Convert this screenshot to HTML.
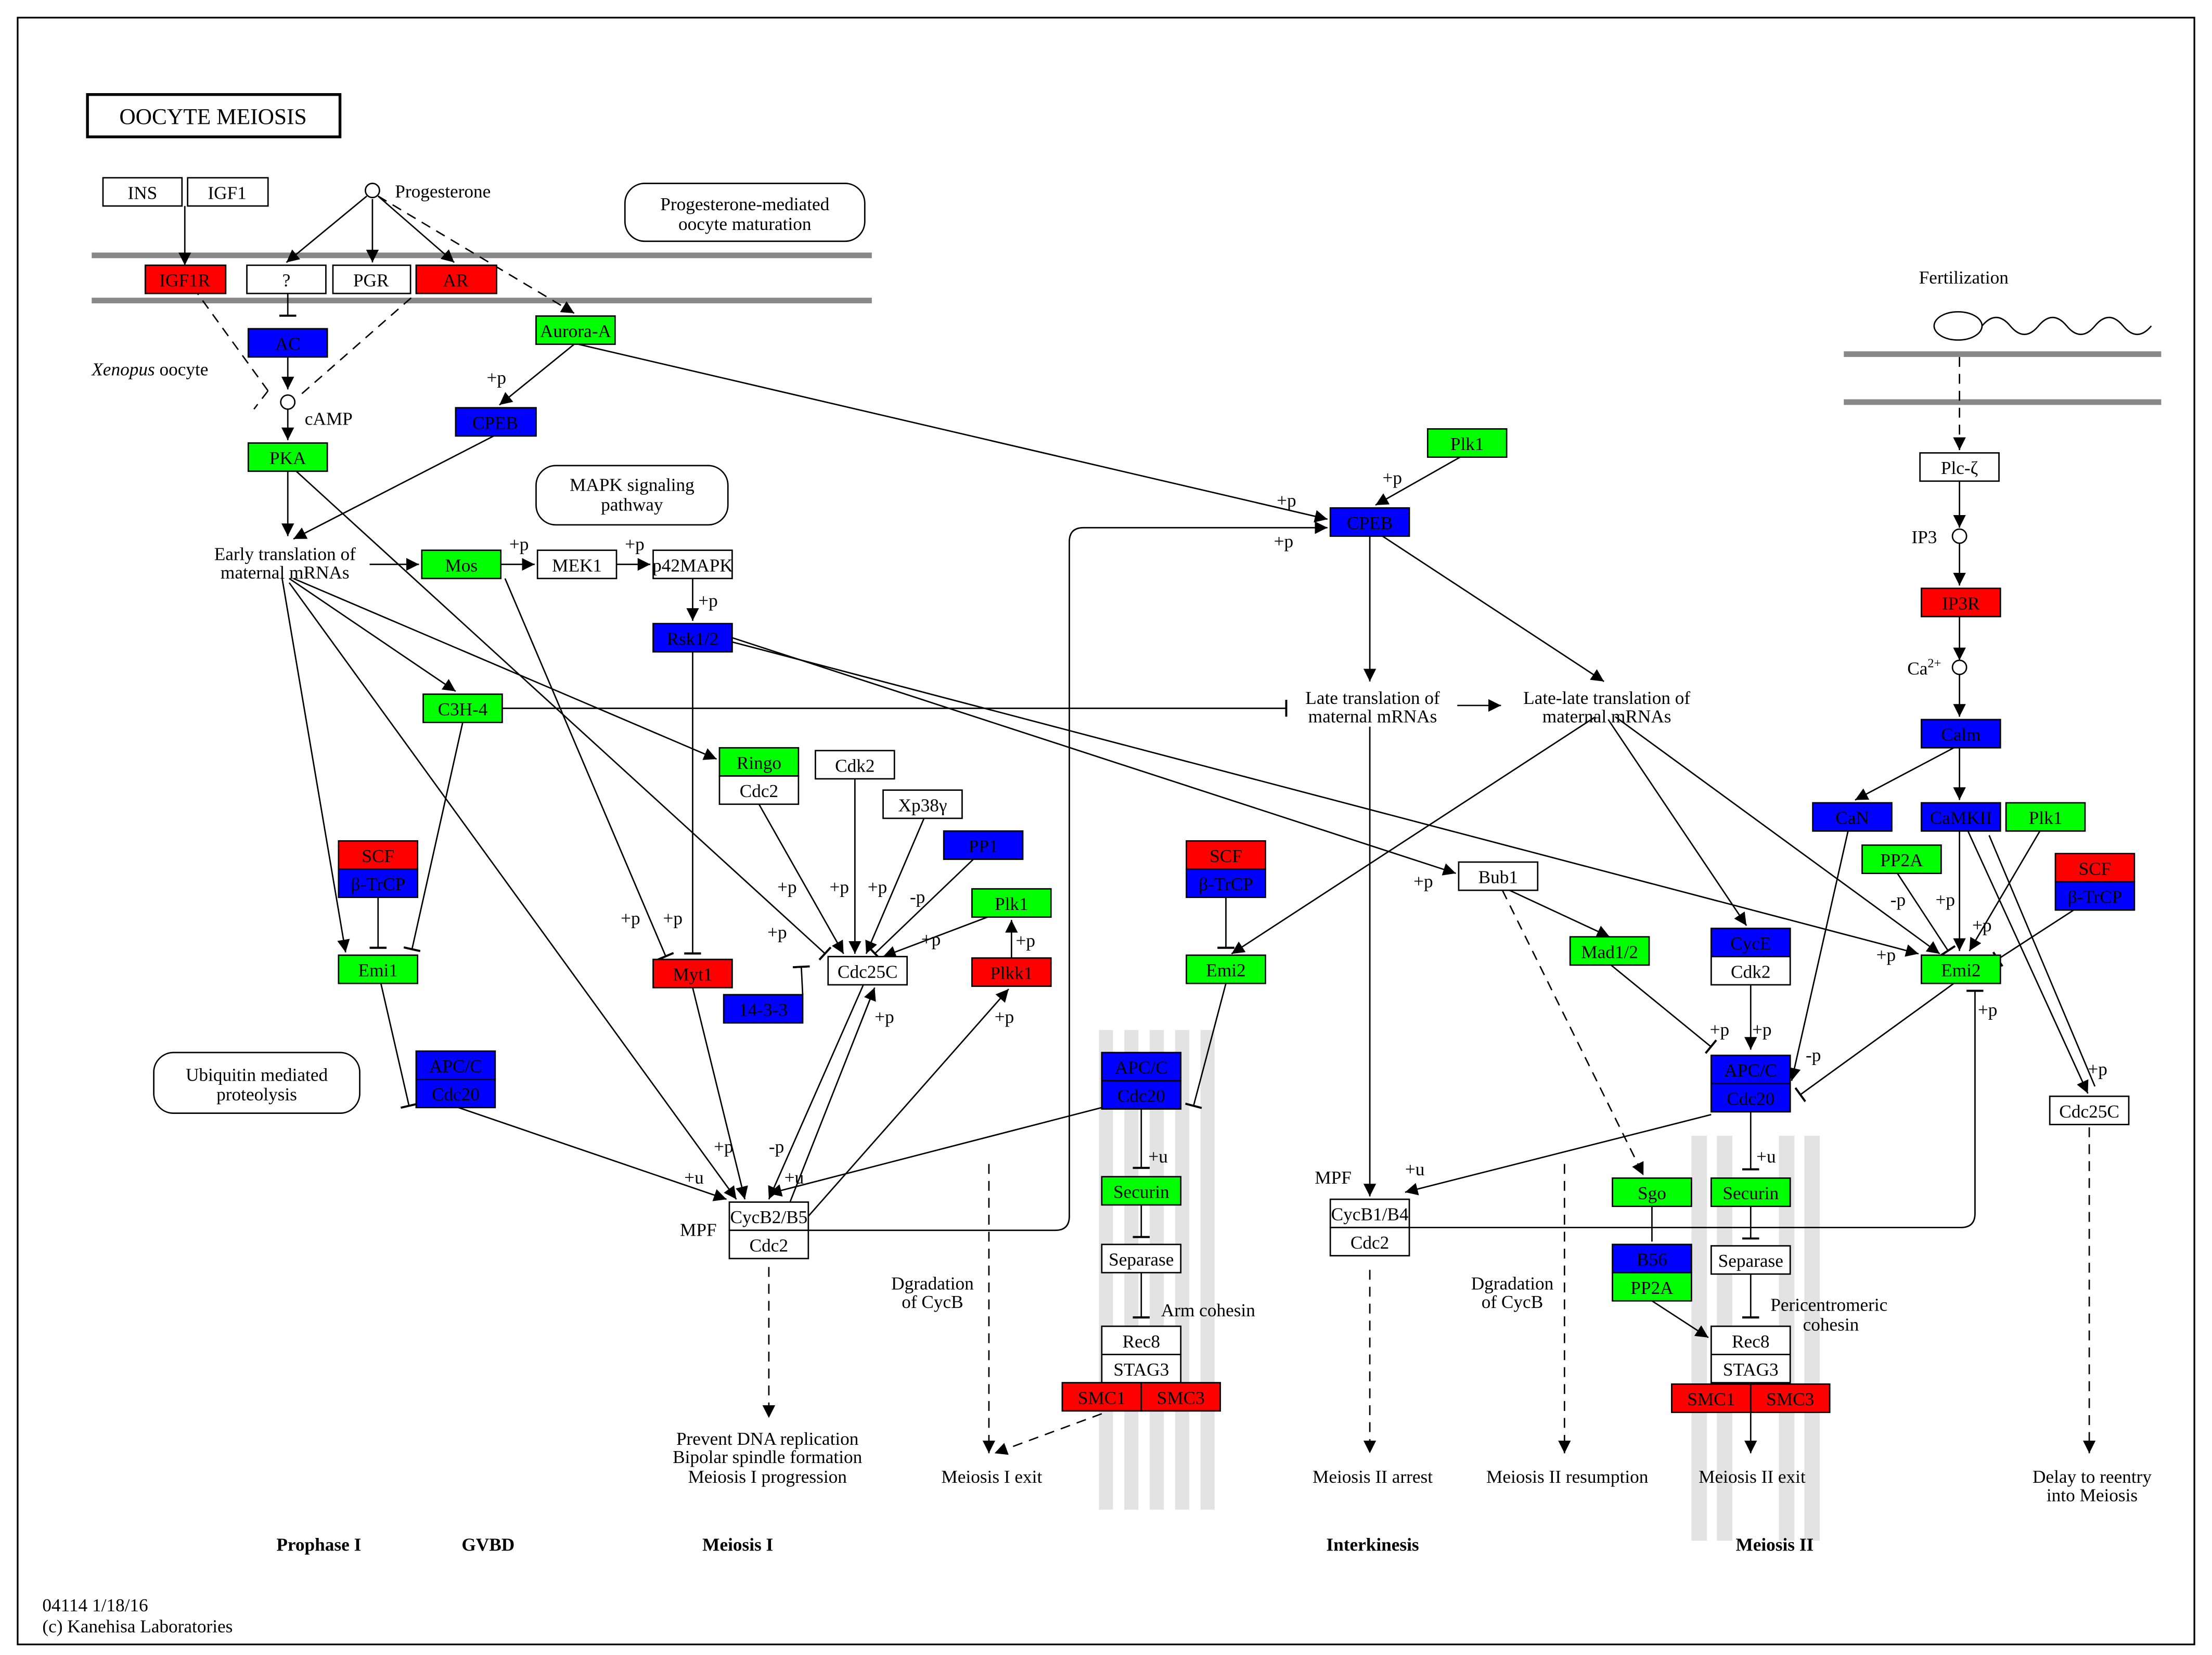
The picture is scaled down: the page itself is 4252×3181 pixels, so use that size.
<!DOCTYPE html>
<html><head><meta charset="utf-8"><style>
html,body{margin:0;padding:0;background:#fff}
svg{display:block}
text{font-family:"Liberation Serif",serif;font-size:13px;fill:#000}
.n{stroke:#000;stroke-width:1}
.e{stroke:#000;stroke-width:1;fill:none}
.d{stroke:#000;stroke-width:1;fill:none;stroke-dasharray:7,5}
</style></head><body>
<svg width="4252" height="3181" viewBox="0 0 1568 1173" preserveAspectRatio="none" xmlns="http://www.w3.org/2000/svg">
<defs>
<marker id="a" viewBox="0 0 10 10" refX="10" refY="5" markerWidth="9" markerHeight="9" orient="auto" markerUnits="userSpaceOnUse"><path d="M0,0L10,5L0,10z" fill="#000"/></marker>
<marker id="b" viewBox="0 0 2 12" refX="1" refY="6" markerWidth="2" markerHeight="12" orient="auto" markerUnits="userSpaceOnUse"><rect x="0" y="0" width="1.5" height="12" fill="#000"/></marker>
</defs>
<rect x="0" y="0" width="1568" height="1173" fill="#fff"/>
<rect x="12.5" y="12.5" width="1543" height="1153" fill="none" stroke="#000" stroke-width="1.2"/>
<g fill="#e3e3e3">
<rect x="779" y="730" width="10" height="340"/><rect x="797" y="730" width="10" height="340"/>
<rect x="815" y="730" width="10" height="340"/><rect x="833" y="730" width="10" height="340"/>
<rect x="851" y="730" width="10" height="340"/>
<rect x="1199" y="805" width="11" height="287"/><rect x="1217" y="805" width="11" height="287"/>
<rect x="1261" y="805" width="11" height="287"/><rect x="1279" y="805" width="11" height="287"/>
</g>
<rect x="62" y="67" width="179" height="30" fill="#fff" stroke="#000" stroke-width="2"/>
<text x="151" y="88" text-anchor="middle" style="font-size:16px">OOCYTE  MEIOSIS</text>
<g fill="#888"><rect x="65" y="179" width="553" height="4"/><rect x="65" y="211" width="553" height="4"/>
<rect x="1307" y="249" width="225" height="4"/><rect x="1307" y="283" width="225" height="4"/></g>
<g fill="#fff" stroke="#000"><rect x="443" y="130" width="170" height="41" rx="14"/><rect x="380" y="330" width="136" height="42" rx="14"/><rect x="109" y="746" width="146" height="43" rx="14"/></g>
<g text-anchor="middle">
<text x="528" y="149">Progesterone-mediated</text><text x="528" y="163">oocyte maturation</text>
<text x="448" y="348">MAPK signaling</text><text x="448" y="362">pathway</text>
<text x="182" y="766">Ubiquitin mediated</text><text x="182" y="780">proteolysis</text>
</g>
<g class="e">
<line x1="131" y1="146" x2="131" y2="188" marker-end="url(#a)"/>
<line x1="260" y1="139" x2="203" y2="186" marker-end="url(#a)"/>
<line x1="264" y1="141" x2="264" y2="186" marker-end="url(#a)"/>
<line x1="268" y1="139" x2="322" y2="186" marker-end="url(#a)"/>
<line x1="204" y1="208" x2="204" y2="224" marker-end="url(#b)"/>
<line x1="204" y1="253" x2="204" y2="276" marker-end="url(#a)"/>
<line x1="204" y1="290" x2="204" y2="312" marker-end="url(#a)"/>
<line x1="407" y1="244" x2="354" y2="287" marker-end="url(#a)"/>
<line x1="204" y1="334" x2="204" y2="380" marker-end="url(#a)"/>
<line x1="350" y1="309" x2="208" y2="382" marker-end="url(#a)"/>
<line x1="262" y1="400" x2="297" y2="400" marker-end="url(#a)"/>
<line x1="355" y1="400" x2="379" y2="400" marker-end="url(#a)"/>
<line x1="437" y1="400" x2="461" y2="400" marker-end="url(#a)"/>
<line x1="491" y1="410" x2="491" y2="440" marker-end="url(#a)"/>
<line x1="410" y1="244" x2="941" y2="368" marker-end="url(#a)"/>
<line x1="1035" y1="324" x2="975" y2="358" marker-end="url(#a)"/>
<path d="M573,872 L748,872 Q758,872 758,862 L758,384 Q758,374 768,374 L941,374" marker-end="url(#a)"/>
<line x1="971" y1="380" x2="971" y2="483" marker-end="url(#a)"/>
<line x1="980" y1="380" x2="1137" y2="483" marker-end="url(#a)"/>
<line x1="1033" y1="500" x2="1064" y2="500" marker-end="url(#a)"/>
<line x1="971" y1="515" x2="971" y2="848" marker-end="url(#a)"/>
<line x1="356" y1="502" x2="912" y2="502" marker-end="url(#b)"/>
<line x1="200" y1="410" x2="245" y2="675" marker-end="url(#a)"/>
<line x1="205" y1="410" x2="323" y2="490" marker-end="url(#a)"/>
<line x1="208" y1="410" x2="508" y2="538" marker-end="url(#a)"/>
<line x1="205" y1="413" x2="522" y2="850" marker-end="url(#a)"/>
<line x1="210" y1="334" x2="585" y2="676" marker-end="url(#b)"/>
<line x1="358" y1="410" x2="472" y2="678" marker-end="url(#b)"/>
<line x1="328" y1="512" x2="292" y2="673" marker-end="url(#b)"/>
<line x1="268" y1="636" x2="268" y2="672" marker-end="url(#b)"/>
<line x1="491" y1="462" x2="491" y2="676" marker-end="url(#b)"/>
<line x1="519" y1="452" x2="1032" y2="619" marker-end="url(#a)"/>
<line x1="519" y1="455" x2="1360" y2="676" marker-end="url(#a)"/>
<line x1="538" y1="570" x2="598" y2="676" marker-end="url(#a)"/>
<line x1="606" y1="552" x2="606" y2="676" marker-end="url(#a)"/>
<line x1="655" y1="580" x2="614" y2="676" marker-end="url(#a)"/>
<line x1="690" y1="609" x2="620" y2="676" marker-end="url(#b)"/>
<line x1="700" y1="650" x2="626" y2="678" marker-end="url(#a)"/>
<line x1="569" y1="705" x2="568" y2="685" marker-end="url(#b)"/>
<line x1="717" y1="679" x2="717" y2="652" marker-end="url(#a)"/>
<line x1="491" y1="700" x2="528" y2="850" marker-end="url(#a)"/>
<line x1="612" y1="698" x2="545" y2="850" marker-end="url(#a)"/>
<line x1="560" y1="852" x2="620" y2="700" marker-end="url(#a)"/>
<line x1="573" y1="862" x2="715" y2="701" marker-end="url(#a)"/>
<line x1="270" y1="697" x2="290" y2="784" marker-end="url(#b)"/>
<line x1="325" y1="785" x2="515" y2="850" marker-end="url(#a)"/>
<line x1="781" y1="785" x2="545" y2="846" marker-end="url(#a)"/>
<line x1="869" y1="697" x2="846" y2="784" marker-end="url(#b)"/>
<line x1="869" y1="636" x2="869" y2="672" marker-end="url(#b)"/>
<line x1="1131" y1="508" x2="873" y2="676" marker-end="url(#a)"/>
<line x1="809" y1="786" x2="809" y2="828" marker-end="url(#b)"/>
<line x1="809" y1="854" x2="809" y2="877" marker-end="url(#b)"/>
<line x1="809" y1="902" x2="809" y2="934" marker-end="url(#b)"/>
<line x1="1070" y1="631" x2="1141" y2="664" marker-end="url(#a)"/>
<line x1="1142" y1="684" x2="1213" y2="742" marker-end="url(#b)"/>
<line x1="1241" y1="698" x2="1241" y2="744" marker-end="url(#a)"/>
<line x1="1140" y1="510" x2="1238" y2="656" marker-end="url(#a)"/>
<line x1="1145" y1="508" x2="1375" y2="676" marker-end="url(#a)"/>
<line x1="1213" y1="790" x2="996" y2="845" marker-end="url(#a)"/>
<line x1="1241" y1="788" x2="1241" y2="829" marker-end="url(#b)"/>
<line x1="1241" y1="855" x2="1241" y2="878" marker-end="url(#b)"/>
<line x1="1241" y1="903" x2="1241" y2="934" marker-end="url(#b)"/>
<line x1="1171" y1="855" x2="1171" y2="880"/>
<line x1="1171" y1="922" x2="1211" y2="948" marker-end="url(#a)"/>
<path d="M999,870 L1390,870 Q1400,870 1400,860 L1400,702" marker-end="url(#b)"/>
<line x1="1385" y1="697" x2="1276" y2="776" marker-end="url(#b)"/>
<line x1="1310" y1="589" x2="1270" y2="766" marker-end="url(#a)"/>
<line x1="1389" y1="341" x2="1389" y2="374" marker-end="url(#a)"/>
<line x1="1389" y1="385" x2="1389" y2="415" marker-end="url(#a)"/>
<line x1="1389" y1="437" x2="1389" y2="468" marker-end="url(#a)"/>
<line x1="1389" y1="478" x2="1389" y2="508" marker-end="url(#a)"/>
<line x1="1385" y1="530" x2="1315" y2="567" marker-end="url(#a)"/>
<line x1="1389" y1="530" x2="1389" y2="567" marker-end="url(#a)"/>
<line x1="1389" y1="589" x2="1389" y2="674" marker-end="url(#a)"/>
<line x1="1345" y1="619" x2="1381" y2="674" marker-end="url(#b)"/>
<line x1="1446" y1="589" x2="1396" y2="674" marker-end="url(#a)"/>
<line x1="1470" y1="645" x2="1416" y2="680" marker-end="url(#b)"/>
<line x1="1395" y1="589" x2="1480" y2="775" marker-end="url(#a)"/>
<line x1="1410" y1="592" x2="1485" y2="770"/>
</g>
<g class="d">
<line x1="190" y1="277" x2="140" y2="208"/>
<line x1="190" y1="277" x2="180" y2="290"/>
<line x1="214" y1="279" x2="295" y2="208"/>
<line x1="268" y1="139" x2="407" y2="222" marker-end="url(#a)"/>
<line x1="545" y1="898" x2="545" y2="1005" marker-end="url(#a)"/>
<line x1="701" y1="825" x2="701" y2="1030" marker-end="url(#a)"/>
<line x1="781" y1="1002" x2="705" y2="1030" marker-end="url(#a)"/>
<line x1="971" y1="900" x2="971" y2="1030" marker-end="url(#a)"/>
<line x1="1109" y1="825" x2="1109" y2="1030" marker-end="url(#a)"/>
<line x1="1065" y1="631" x2="1165" y2="833" marker-end="url(#a)"/>
<line x1="1389" y1="253" x2="1389" y2="319" marker-end="url(#a)"/>
<line x1="1481" y1="799" x2="1481" y2="1030" marker-end="url(#a)"/>
</g>
<line x1="1241" y1="1001" x2="1241" y2="1030" class="e" marker-end="url(#a)"/>
<g fill="#fff" stroke="#000"><circle cx="264" cy="135" r="5"/><circle cx="204" cy="285" r="5"/><circle cx="1389" cy="380" r="5"/><circle cx="1389" cy="473" r="5"/>
<ellipse cx="1388" cy="231" rx="17" ry="10"/></g>
<path d="M1405,231 q10,-12 20,0 t20,0 t20,0 t20,0 t20,0 t20,0" class="e"/>
<g class="n">
<rect x="73" y="126" width="56" height="20" fill="#fff"/><rect x="133" y="126" width="57" height="20" fill="#fff"/>
<rect x="103" y="188" width="57" height="20" fill="#f00"/><rect x="175" y="188" width="56" height="20" fill="#fff"/>
<rect x="236" y="188" width="55" height="20" fill="#fff"/><rect x="295" y="188" width="57" height="20" fill="#f00"/>
<rect x="176" y="233" width="56" height="20" fill="#00f"/><rect x="380" y="224" width="56" height="20" fill="#0f0"/>
<rect x="323" y="289" width="57" height="20" fill="#00f"/><rect x="176" y="314" width="56" height="20" fill="#0f0"/>
<rect x="299" y="390" width="56" height="20" fill="#0f0"/><rect x="381" y="390" width="56" height="20" fill="#fff"/>
<rect x="463" y="390" width="56" height="20" fill="#fff"/><rect x="463" y="442" width="56" height="20" fill="#00f"/>
<rect x="300" y="492" width="56" height="20" fill="#0f0"/>
<rect x="510" y="530" width="56" height="20" fill="#0f0"/><rect x="510" y="550" width="56" height="20" fill="#fff"/>
<rect x="578" y="532" width="56" height="20" fill="#fff"/><rect x="626" y="560" width="56" height="20" fill="#fff"/>
<rect x="669" y="589" width="56" height="20" fill="#00f"/><rect x="689" y="630" width="56" height="20" fill="#0f0"/>
<rect x="689" y="679" width="56" height="20" fill="#f00"/><rect x="587" y="678" width="56" height="20" fill="#fff"/>
<rect x="513" y="705" width="56" height="20" fill="#00f"/><rect x="463" y="680" width="56" height="20" fill="#f00"/>
<rect x="240" y="596" width="56" height="20" fill="#f00"/><rect x="240" y="616" width="56" height="20" fill="#00f"/>
<rect x="240" y="677" width="56" height="20" fill="#0f0"/>
<rect x="295" y="745" width="56" height="20" fill="#00f"/><rect x="295" y="765" width="56" height="20" fill="#00f"/>
<rect x="517" y="852" width="56" height="20" fill="#fff"/><rect x="517" y="872" width="56" height="20" fill="#fff"/>
<rect x="1012" y="304" width="56" height="20" fill="#0f0"/><rect x="943" y="360" width="56" height="20" fill="#00f"/>
<rect x="841" y="596" width="56" height="20" fill="#f00"/><rect x="841" y="616" width="56" height="20" fill="#00f"/>
<rect x="841" y="677" width="56" height="20" fill="#0f0"/>
<rect x="781" y="746" width="56" height="20" fill="#00f"/><rect x="781" y="766" width="56" height="20" fill="#00f"/>
<rect x="781" y="834" width="56" height="20" fill="#0f0"/><rect x="781" y="882" width="56" height="20" fill="#fff"/>
<rect x="781" y="940" width="56" height="20" fill="#fff"/><rect x="781" y="960" width="56" height="20" fill="#fff"/>
<rect x="753" y="980" width="56" height="20" fill="#f00"/><rect x="809" y="980" width="56" height="20" fill="#f00"/>
<rect x="1034" y="611" width="56" height="20" fill="#fff"/><rect x="1113" y="664" width="56" height="20" fill="#0f0"/>
<rect x="1213" y="658" width="56" height="20" fill="#00f"/><rect x="1213" y="678" width="56" height="20" fill="#fff"/>
<rect x="1213" y="748" width="56" height="20" fill="#00f"/><rect x="1213" y="768" width="56" height="20" fill="#00f"/>
<rect x="1143" y="835" width="56" height="20" fill="#0f0"/><rect x="1143" y="882" width="56" height="20" fill="#00f"/>
<rect x="1143" y="902" width="56" height="20" fill="#0f0"/>
<rect x="1213" y="835" width="56" height="20" fill="#0f0"/><rect x="1213" y="883" width="56" height="20" fill="#fff"/>
<rect x="1213" y="940" width="56" height="20" fill="#fff"/><rect x="1213" y="960" width="56" height="20" fill="#fff"/>
<rect x="1185" y="981" width="56" height="20" fill="#f00"/><rect x="1241" y="981" width="56" height="20" fill="#f00"/>
<rect x="943" y="850" width="56" height="20" fill="#fff"/><rect x="943" y="870" width="56" height="20" fill="#fff"/>
<rect x="1361" y="321" width="56" height="20" fill="#fff"/><rect x="1362" y="417" width="56" height="20" fill="#f00"/>
<rect x="1362" y="510" width="56" height="20" fill="#00f"/>
<rect x="1285" y="569" width="56" height="20" fill="#00f"/><rect x="1362" y="569" width="56" height="20" fill="#00f"/>
<rect x="1422" y="569" width="56" height="20" fill="#0f0"/><rect x="1320" y="599" width="56" height="20" fill="#0f0"/>
<rect x="1457" y="605" width="56" height="20" fill="#f00"/><rect x="1457" y="625" width="56" height="20" fill="#00f"/>
<rect x="1362" y="677" width="56" height="20" fill="#0f0"/><rect x="1453" y="777" width="56" height="20" fill="#fff"/>
</g>
<g text-anchor="middle">
<text x="101" y="141">INS</text><text x="161" y="141">IGF1</text>
<text x="131" y="203">IGF1R</text><text x="203" y="203">?</text><text x="263" y="203">PGR</text><text x="323" y="203">AR</text>
<text x="204" y="248">AC</text><text x="408" y="239">Aurora-A</text><text x="351" y="304">CPEB</text><text x="204" y="329">PKA</text>
<text x="327" y="405">Mos</text><text x="409" y="405">MEK1</text><text x="491" y="405">p42MAPK</text><text x="491" y="457">Rsk1/2</text>
<text x="328" y="507">C3H-4</text><text x="538" y="545">Ringo</text><text x="538" y="565">Cdc2</text>
<text x="606" y="547">Cdk2</text><text x="654" y="575">Xp38γ</text><text x="697" y="604">PP1</text><text x="717" y="645">Plk1</text>
<text x="717" y="694">Plkk1</text><text x="615" y="693">Cdc25C</text><text x="541" y="720">14-3-3</text><text x="491" y="695">Myt1</text>
<text x="268" y="611">SCF</text><text x="268" y="631">β-TrCP</text><text x="268" y="692">Emi1</text>
<text x="323" y="760">APC/C</text><text x="323" y="780">Cdc20</text>
<text x="545" y="867">CycB2/B5</text><text x="545" y="887">Cdc2</text>
<text x="1040" y="319">Plk1</text><text x="971" y="375">CPEB</text>
<text x="869" y="611">SCF</text><text x="869" y="631">β-TrCP</text><text x="869" y="692">Emi2</text>
<text x="809" y="761">APC/C</text><text x="809" y="781">Cdc20</text><text x="809" y="849">Securin</text><text x="809" y="897">Separase</text>
<text x="809" y="955">Rec8</text><text x="809" y="975">STAG3</text><text x="781" y="995">SMC1</text><text x="837" y="995">SMC3</text>
<text x="1062" y="626">Bub1</text><text x="1141" y="679">Mad1/2</text>
<text x="1241" y="673">CycE</text><text x="1241" y="693">Cdk2</text><text x="1241" y="763">APC/C</text><text x="1241" y="783">Cdc20</text>
<text x="1171" y="850">Sgo</text><text x="1171" y="897">B56</text><text x="1171" y="917">PP2A</text>
<text x="1241" y="850">Securin</text><text x="1241" y="898">Separase</text><text x="1241" y="955">Rec8</text><text x="1241" y="975">STAG3</text>
<text x="1213" y="996">SMC1</text><text x="1269" y="996">SMC3</text>
<text x="971" y="865">CycB1/B4</text><text x="971" y="885">Cdc2</text>
<text x="1389" y="336">Plc-ζ</text><text x="1390" y="432">IP3R</text><text x="1390" y="525">Calm</text>
<text x="1313" y="584">CaN</text><text x="1390" y="584">CaMKII</text><text x="1450" y="584">Plk1</text><text x="1348" y="614">PP2A</text>
<text x="1485" y="620">SCF</text><text x="1485" y="640">β-TrCP</text><text x="1390" y="692">Emi2</text><text x="1481" y="792">Cdc25C</text>
<text x="202" y="397">Early translation of</text><text x="202" y="410">maternal mRNAs</text>
<text x="973" y="499">Late translation of</text><text x="973" y="512">maternal mRNAs</text>
<text x="1139" y="499">Late-late translation of</text><text x="1139" y="512">maternal mRNAs</text>
<text x="1392" y="201">Fertilization</text>
<text x="544" y="1024">Prevent DNA replication</text><text x="544" y="1037">Bipolar spindle formation</text><text x="544" y="1051">Meiosis I progression</text>
<text x="703" y="1051">Meiosis I exit</text><text x="973" y="1051">Meiosis II arrest</text><text x="1111" y="1051">Meiosis II resumption</text>
<text x="1242" y="1051">Meiosis II exit</text><text x="1483" y="1051">Delay to reentry</text><text x="1483" y="1064">into Meiosis</text>
<text x="661" y="914">Dgradation</text><text x="661" y="927">of CycB</text><text x="1072" y="914">Dgradation</text><text x="1072" y="927">of CycB</text>
<g style="font-weight:bold"><text x="226" y="1099">Prophase I</text><text x="346" y="1099">GVBD</text><text x="523" y="1099">Meiosis I</text><text x="973" y="1099">Interkinesis</text><text x="1258" y="1099">Meiosis II</text></g>
</g>
<text x="280" y="140">Progesterone</text>
<text x="65" y="266"><tspan font-style="italic">Xenopus</tspan> oocyte</text>
<text x="216" y="301">cAMP</text>
<text x="1355" y="385">IP3</text><text x="1352" y="478">Ca<tspan dy="-5" style="font-size:9px">2+</tspan></text>
<text x="482" y="876">MPF</text><text x="932" y="839">MPF</text>
<text x="823" y="933">Arm cohesin</text><text x="1255" y="929">Pericentromeric</text><text x="1278" y="943">cohesin</text>
<text x="30" y="1142">04114 1/18/16</text><text x="30" y="1157">(c) Kanehisa Laboratories</text>
<g style="font-size:12px">
<text x="345" y="272">+p</text><text x="905" y="359">+p</text><text x="903" y="388">+p</text><text x="980" y="343">+p</text>
<text x="361" y="390">+p</text><text x="443" y="390">+p</text><text x="495" y="430">+p</text>
<text x="551" y="633">+p</text><text x="588" y="633">+p</text><text x="615" y="633">+p</text><text x="645" y="640">-p</text>
<text x="653" y="670">+p</text><text x="544" y="665">+p</text><text x="440" y="655">+p</text><text x="470" y="655">+p</text>
<text x="720" y="671">+p</text><text x="620" y="725">+p</text><text x="705" y="725">+p</text>
<text x="506" y="817">+p</text><text x="545" y="817">-p</text><text x="485" y="839">+u</text><text x="556" y="839">+u</text>
<text x="814" y="824">+u</text><text x="1002" y="629">+p</text><text x="996" y="833">+u</text>
<text x="1212" y="734">+p</text><text x="1242" y="734">+p</text><text x="1280" y="752">-p</text><text x="1245" y="824">+u</text>
<text x="1340" y="642">-p</text><text x="1372" y="642">+p</text><text x="1398" y="660">+p</text><text x="1330" y="681">+p</text>
<text x="1402" y="720">+p</text><text x="1480" y="762">+p</text>
</g>
</svg>
</body></html>
